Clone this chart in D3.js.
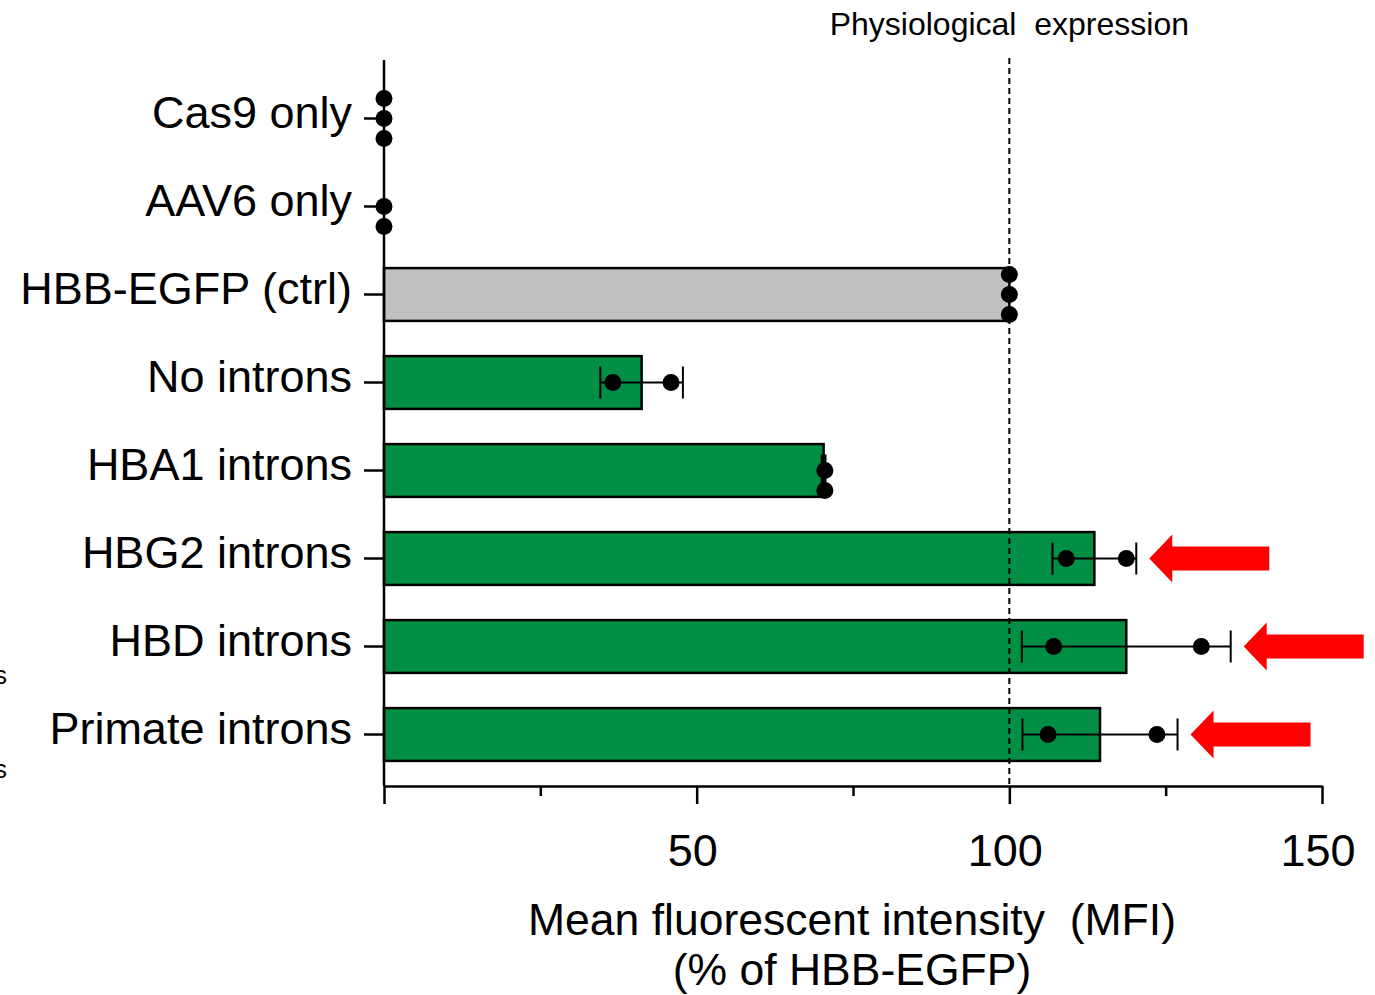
<!DOCTYPE html>
<html>
<head>
  <meta charset="utf-8">
  <style>
    body { margin: 0; background: #fff; }
    text { font-family: "Liberation Sans", Arial, sans-serif; fill: #000; white-space: pre; }
  </style>
  <title>MFI by intron construct</title>
</head>
<body>
  <script src="https://cdn.jsdelivr.net/npm/d3@7/dist/d3.min.js"></script>
  <script>
    // data
    var categories = ["Cas9 only", "AAV6 only", "HBB-EGFP (ctrl)", "No introns",
                      "HBA1 introns", "HBG2 introns", "HBD introns", "Primate introns"];
    var means = [0, 0, 100, 41.2, 70.3, 113.6, 118.7, 114.5];
    var sds   = [0, 0, 0, 6.6, 0.3, 6.7, 16.7, 12.4];
    var points = [
      [0, 0, 0],
      [0, 0],
      [100, 100, 100],
      [36.6, 45.9],
      [70.5, 70.5],
      [109.1, 118.7],
      [107.1, 130.7],
      [106.2, 123.6]
    ];
    var showBar = [false, false, true, true, true, true, true, true];
    var isCtrl  = [false, false, true, false, false, false, false, false];
    var arrowed = ["HBG2 introns", "HBD introns", "Primate introns"];
    var xTicks = [0, 25, 50, 75, 100, 125, 150];
    var xLabels = [50, 100, 150];
    var refValue = 100;

    var width = 1375, height = 995;
    var svg = d3.select("body").append("svg")
      .attr("width", width)
      .attr("height", height);

    var x = d3.scaleLinear().domain([0, 150]).range([384, 1322]);
    var y = d3.scaleBand().domain(categories).range([74.5, 778.5])
      .paddingInner(0.4).paddingOuter(0.2);
    var axisY = 786;

    // bars
    var rows = categories.map(function(c, i) {
      return { cat: c, mean: means[i], sd: sds[i], pts: points[i], bar: showBar[i], ctrl: isCtrl[i] };
    });

    svg.append("g").selectAll("rect")
      .data(rows.filter(function(d) { return d.bar; }))
      .enter().append("rect")
      .attr("x", x(0))
      .attr("y", function(d) { return y(d.cat); })
      .attr("width", function(d) { return x(d.mean) - x(0); })
      .attr("height", y.bandwidth())
      .attr("fill", function(d) { return d.ctrl ? "#c0c0c0" : "#008f45"; })
      .attr("stroke", "#000")
      .attr("stroke-width", 2.5);

    // reference dashed line
    svg.append("line")
      .attr("x1", x(refValue)).attr("x2", x(refValue))
      .attr("y1", 58).attr("y2", axisY)
      .attr("stroke", "#000").attr("stroke-width", 2)
      .attr("stroke-dasharray", "6,4");

    svg.append("text")
      .attr("x", x(refValue))
      .attr("y", 35)
      .attr("text-anchor", "middle")
      .style("font-size", "32px")
      .text("Physiological  expression");

    // error bars
    var eb = svg.append("g").attr("stroke", "#000").attr("stroke-width", 2);
    rows.filter(function(d) { return d.sd > 0; }).forEach(function(d) {
      var cy = y(d.cat) + y.bandwidth() / 2;
      var lo = x(d.mean - d.sd), hi = x(d.mean + d.sd);
      eb.append("line").attr("x1", lo).attr("x2", hi).attr("y1", cy).attr("y2", cy);
      eb.append("line").attr("x1", lo).attr("x2", lo).attr("y1", cy - 16).attr("y2", cy + 16);
      eb.append("line").attr("x1", hi).attr("x2", hi).attr("y1", cy - 16).attr("y2", cy + 16);
    });

    // dots, stacked vertically when they overlap
    var dotR = 8.5;
    var dots = [];
    rows.forEach(function(d) {
      var cy = y(d.cat) + y.bandwidth() / 2;
      var placed = [];
      d.pts.forEach(function(v) {
        var px = x(v);
        var same = placed.filter(function(p) { return Math.abs(p - px) < dotR * 2; }).length;
        var k = same === 0 ? 0 : (same % 2 === 1 ? (same + 1) / 2 : -same / 2);
        placed.push(px);
        dots.push({ cx: px, cy: cy + k * 20 });
      });
    });

    // y axis line
    svg.append("line")
      .attr("x1", x(0)).attr("x2", x(0))
      .attr("y1", 60).attr("y2", axisY)
      .attr("stroke", "#000").attr("stroke-width", 2.5);

    svg.append("g").selectAll("circle")
      .data(dots)
      .enter().append("circle")
      .attr("cx", function(d) { return d.cx; })
      .attr("cy", function(d) { return d.cy; })
      .attr("r", dotR)
      .attr("fill", "#000");

    // red arrows
    var arrowG = svg.append("g");
    rows.filter(function(d) { return arrowed.indexOf(d.cat) >= 0; }).forEach(function(d) {
      var cy = y(d.cat) + y.bandwidth() / 2;
      var tip = x(d.mean + d.sd) + 13;
      var path = d3.path();
      path.moveTo(tip, cy);
      path.lineTo(tip + 23, cy - 24);
      path.lineTo(tip + 23, cy - 12);
      path.lineTo(tip + 120, cy - 12);
      path.lineTo(tip + 120, cy + 12);
      path.lineTo(tip + 23, cy + 12);
      path.lineTo(tip + 23, cy + 24);
      path.closePath();
      arrowG.append("path").attr("d", path.toString()).attr("fill", "#ff0000");
    });

    // y axis ticks + labels
    var yAxis = d3.axisLeft(y).tickSize(20).tickPadding(12).tickSizeOuter(0);
    var gy = svg.append("g")
      .attr("transform", "translate(" + x(0) + ",0)")
      .call(yAxis);
    gy.select(".domain").remove();
    gy.selectAll("line").attr("stroke-width", 2.5);
    gy.selectAll("text")
      .style("font-family", "'Liberation Sans', Arial, sans-serif")
      .style("font-size", "45px")
      .attr("dy", "0.2em");

    // x axis
    var xAxis = d3.axisBottom(x).tickValues(xTicks).tickSize(18).tickSizeOuter(0)
      .tickPadding(30)
      .tickFormat(function(v) { return xLabels.indexOf(v) >= 0 ? v : ""; });
    var gx = svg.append("g")
      .attr("transform", "translate(0," + axisY + ")")
      .call(xAxis);
    gx.select(".domain").attr("stroke-width", 2.5);
    gx.selectAll(".tick line")
      .attr("stroke-width", 2.5)
      .attr("y2", function(v) { return v % 50 === 0 ? 18 : 10; });
    gx.selectAll("text")
      .style("font-family", "'Liberation Sans', Arial, sans-serif")
      .style("font-size", "45px")
      .attr("dx", "-0.1em");

    // x axis title
    svg.append("text")
      .attr("x", 852).attr("y", 935)
      .attr("text-anchor", "middle")
      .style("font-size", "44.5px")
      .text("Mean fluorescent intensity  (MFI)");
    svg.append("text")
      .attr("x", 852).attr("y", 985)
      .attr("text-anchor", "middle")
      .style("font-size", "44.5px")
      .text("(% of HBB-EGFP)");

    // cut-off text fragments at the left edge
    svg.append("text").attr("x", 7).attr("y", 684).attr("text-anchor", "end")
      .style("font-size", "26px").text("ns");
    svg.append("text").attr("x", 7).attr("y", 778).attr("text-anchor", "end")
      .style("font-size", "26px").text("ns");
  </script>
</body>
</html>
